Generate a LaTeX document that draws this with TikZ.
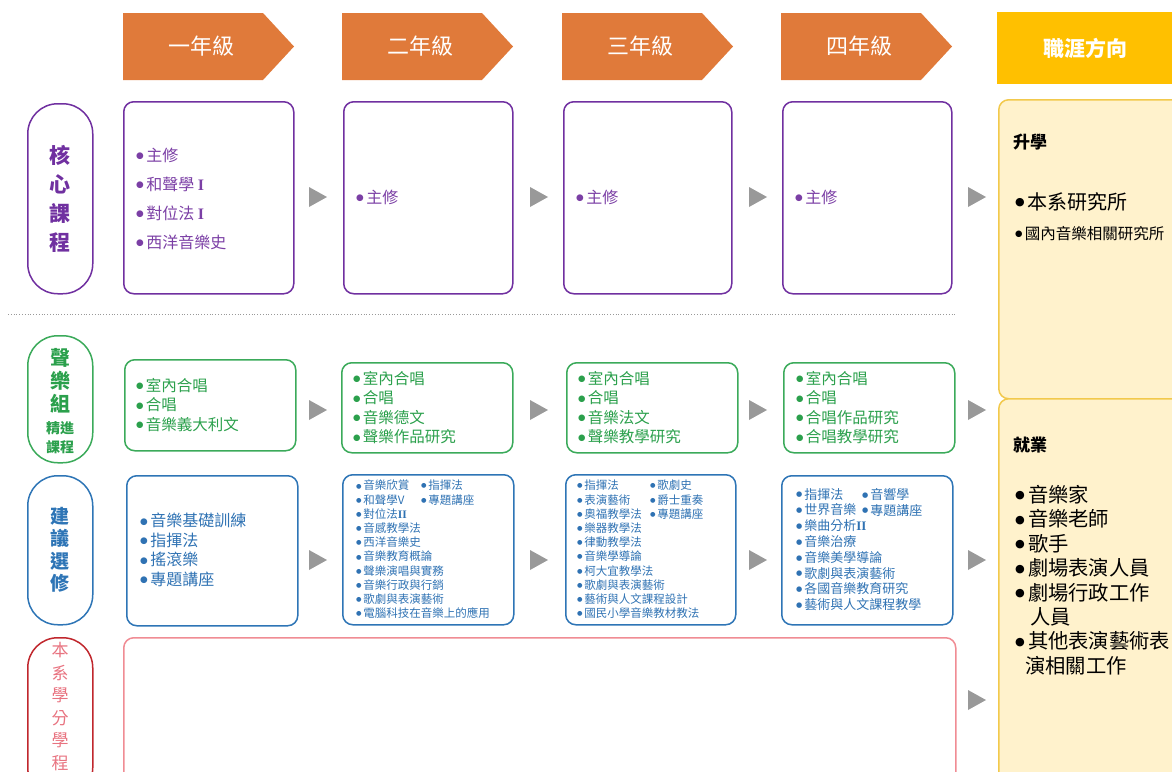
\documentclass[tikz,border=0pt]{standalone}
\usepackage{fontspec}
\setmainfont{Noto Sans CJK TC}
\newfontfamily\rom{Liberation Serif}
\newfontfamily\dv{DejaVu Sans}[Scale=0.55]
\definecolor{orng}{HTML}{E07A3A}
\definecolor{gold}{HTML}{FFC000}
\definecolor{cream}{HTML}{FFF2CC}
\definecolor{creamline}{HTML}{F2C94C}
\definecolor{purp}{HTML}{7030A0}
\definecolor{purptxt}{HTML}{7B3FA5}
\definecolor{grn}{HTML}{3BAA5A}
\definecolor{grntxt}{HTML}{2BA04C}
\definecolor{blu}{HTML}{2E75B6}
\definecolor{blutxt}{HTML}{2F72B3}
\definecolor{redd}{HTML}{C0272D}
\definecolor{pinktxt}{HTML}{E87380}
\definecolor{pinkline}{HTML}{F08C94}
\definecolor{arrgray}{HTML}{999999}
\newcommand{\RI}{{\rom\bfseries I}}
\newcommand{\RII}{{\rom\bfseries II}}
\newcommand{\bu}{\raisebox{0.17em}{\dv ●}\hspace{0.15em}}
\begin{document}
\begin{tikzpicture}[x=1pt,y=-1pt,
  box/.style={draw, line width=1.5pt, rounded corners=10pt, inner sep=0pt, anchor=north west},
  pill/.style={draw, line width=1.5pt, rounded corners=30pt, inner sep=0pt, anchor=north west, minimum width=65pt},
  txt/.style={anchor=north west, inner sep=0pt, align=left},
  lab/.style={anchor=north, inner sep=0pt, align=center, font=\bfseries\fontsize{21}{29}\selectfont},
  hdr/.style={inner sep=0pt, text=white, font=\fontsize{22}{22}\selectfont},
  tri/.pic={\fill[arrgray] (-9,-10) -- (9,0) -- (-9,10) -- cycle;}
]
\useasboundingbox (0,0) rectangle (1172,771);
% headers
\foreach \x/\t [count=\i] in {123/一年級,342/二年級,562/三年級,781/四年級}{
  \fill[orng] (\x,13) -- (\x+140,13) -- (\x+171,46.5) -- (\x+140,80) -- (\x,80) -- cycle;
  \node[hdr] (h\i) at (\x+78,46) {\t};
}
\fill[gold] (997,12) rectangle (1172,84);
\node[hdr, font=\bfseries\fontsize{21}{21}\selectfont] (career) at (1085,48) {職涯方向};
% right column
\node[box, draw=creamline, fill=cream, minimum width=200pt, minimum height=299pt] (up) at (998,99) {};
\node[box, draw=creamline, fill=cream, minimum width=200pt, minimum height=400pt] (down) at (998,398) {};
\node[txt, font=\bfseries\fontsize{17}{17}\selectfont] (upt) at (1013,134) {升學};
\node[txt, font=\fontsize{20}{20}\selectfont] (up1) at (1015,192) {\bu 本系研究所};
\node[txt, font=\fontsize{15.5}{15.5}\selectfont] (up2) at (1015,226) {\bu 國內音樂相關研究所};
\node[txt, font=\bfseries\fontsize{17}{17}\selectfont] (dnt) at (1013,437) {就業};
\node[txt, font=\fontsize{20.3}{24.4}\selectfont] (dn1) at (1015,485) {\bu 音樂家\\\bu 音樂老師\\\bu 歌手\\\bu 劇場表演人員\\\bu 劇場行政工作\\\hspace*{0.75em}人員\\\bu 其他表演藝術表\\\hspace*{0.5em}演相關工作};
% core row
\node[pill, draw=purp, minimum height=190pt] (pc) at (27,103) {};
\node[lab, text=purp] (pct) at (60,145) {核\\心\\課\\程};
\node[box, draw=purp, minimum width=170pt, minimum height=192pt] (c1) at (123,101) {};
\node[box, draw=purp, minimum width=169pt, minimum height=192pt] (c2) at (343,101) {};
\node[box, draw=purp, minimum width=168pt, minimum height=192pt] (c3) at (563,101) {};
\node[box, draw=purp, minimum width=169pt, minimum height=192pt] (c4) at (782,101) {};
\node[txt, text=purptxt, font=\fontsize{16}{29}\selectfont] (c1t) at (136,148) {\bu 主修\\\bu 和聲學 \RI\\\bu 對位法 \RI\\\bu 西洋音樂史};
\node[txt, text=purptxt, font=\fontsize{16}{29}\selectfont] (c2t) at (356,190) {\bu 主修};
\node[txt, text=purptxt, font=\fontsize{16}{29}\selectfont] (c3t) at (576,190) {\bu 主修};
\node[txt, text=purptxt, font=\fontsize{16}{29}\selectfont] (c4t) at (795,190) {\bu 主修};
\draw[arrgray, line width=0.8pt, dotted] (8,314) -- (955,314);
% vocal row
\node[pill, draw=grn, minimum height=127pt] (pv) at (27,335) {};
\node[lab, text=grntxt, font=\bfseries\fontsize{20}{23}\selectfont] (pvt) at (60,348) {聲\\樂\\組};
\node[lab, text=grntxt, font=\bfseries\fontsize{14}{19}\selectfont] (pvt2) at (60,421) {精進\\課程};
\node[box, draw=grn, minimum width=171pt, minimum height=91pt] (v1) at (124,359) {};
\node[box, draw=grn, minimum width=171pt, minimum height=90pt] (v2) at (341,362) {};
\node[box, draw=grn, minimum width=171pt, minimum height=90pt] (v3) at (566,362) {};
\node[box, draw=grn, minimum width=171pt, minimum height=90pt] (v4) at (783,362) {};
\node[txt, text=grntxt, font=\fontsize{15.5}{19.5}\selectfont] (v1t) at (136,378) {\bu 室內合唱\\\bu 合唱\\\bu 音樂義大利文};
\node[txt, text=grntxt, font=\fontsize{15.5}{19.5}\selectfont] (v2t) at (353,371) {\bu 室內合唱\\\bu 合唱\\\bu 音樂德文\\\bu 聲樂作品研究};
\node[txt, text=grntxt, font=\fontsize{15.5}{19.5}\selectfont] (v3t) at (578,371) {\bu 室內合唱\\\bu 合唱\\\bu 音樂法文\\\bu 聲樂教學研究};
\node[txt, text=grntxt, font=\fontsize{15.5}{19.5}\selectfont] (v4t) at (796,371) {\bu 室內合唱\\\bu 合唱\\\bu 合唱作品研究\\\bu 合唱教學研究};
% elective row
\node[pill, draw=blu, minimum height=149pt] (pe) at (27,475) {};
\node[lab, text=blu, font=\bfseries\fontsize{19}{22.4}\selectfont] (pet) at (60,507) {建\\議\\選\\修};
\node[box, draw=blu, minimum width=171pt, minimum height=150pt] (e1) at (126,475) {};
\node[box, draw=blu, minimum width=171pt, minimum height=150pt] (e2) at (342,474) {};
\node[box, draw=blu, minimum width=170pt, minimum height=150pt] (e3) at (565,474) {};
\node[box, draw=blu, minimum width=171pt, minimum height=149pt] (e4) at (781,475) {};
\node[txt, text=blutxt, font=\fontsize{16}{19.5}\selectfont] (e1t) at (140,513) {\bu 音樂基礎訓練\\\bu 指揮法\\\bu 搖滾樂\\\bu 專題講座};
\node[txt, text=blutxt, font=\fontsize{11.5}{14.2}\selectfont] (e2t) at (356,480) {\bu 音樂欣賞\\\bu 和聲學V\\\bu 對位法\RII\\\bu 音感教學法\\\bu 西洋音樂史\\\bu 音樂教育概論\\\bu 聲樂演唱與實務\\\bu 音樂行政與行銷\\\bu 歌劇與表演藝術\\\bu 電腦科技在音樂上的應用};
\node[txt, text=blutxt, font=\fontsize{11.5}{14.2}\selectfont] (e2u) at (421,480) {\bu 指揮法\\\bu 專題講座};
\node[txt, text=blutxt, font=\fontsize{11.5}{14.2}\selectfont] (e3t) at (577,480) {\bu 指揮法\\\bu 表演藝術\\\bu 奧福教學法\\\bu 樂器教學法\\\bu 律動教學法\\\bu 音樂學導論\\\bu 柯大宜教學法\\\bu 歌劇與表演藝術\\\bu 藝術與人文課程設計\\\bu 國民小學音樂教材教法};
\node[txt, text=blutxt, font=\fontsize{11.5}{14.2}\selectfont] (e3u) at (650,480) {\bu 歌劇史\\\bu 爵士重奏\\\bu 專題講座};
\node[txt, text=blutxt, font=\fontsize{13}{15.8}\selectfont] (e4t) at (796,488) {\bu 指揮法\\\bu 世界音樂\\\bu 樂曲分析\RII\\\bu 音樂治療\\\bu 音樂美學導論\\\bu 歌劇與表演藝術\\\bu 各國音樂教育研究\\\bu 藝術與人文課程教學};
\node[txt, text=blutxt, font=\fontsize{13}{15.8}\selectfont] (e4u) at (862,488) {\bu 音響學\\\bu 專題講座};
% program row
\node[pill, draw=redd, minimum height=160pt] (pp) at (27,637) {};
\node[lab, text=pinktxt, font=\fontsize{17}{22.6}\selectfont] (ppt) at (60,642) {本\\系\\學\\分\\學\\程};
\node[box, draw=pinkline, minimum width=832pt, minimum height=160pt] (p1) at (123,637) {};
% arrows
\foreach \y in {197,410,560}{
  \foreach \x in {318,539,758,977}{
    \pic at (\x,\y) {tri};
  }
}
\pic at (977,700) {tri};
\end{tikzpicture}
\end{document}
